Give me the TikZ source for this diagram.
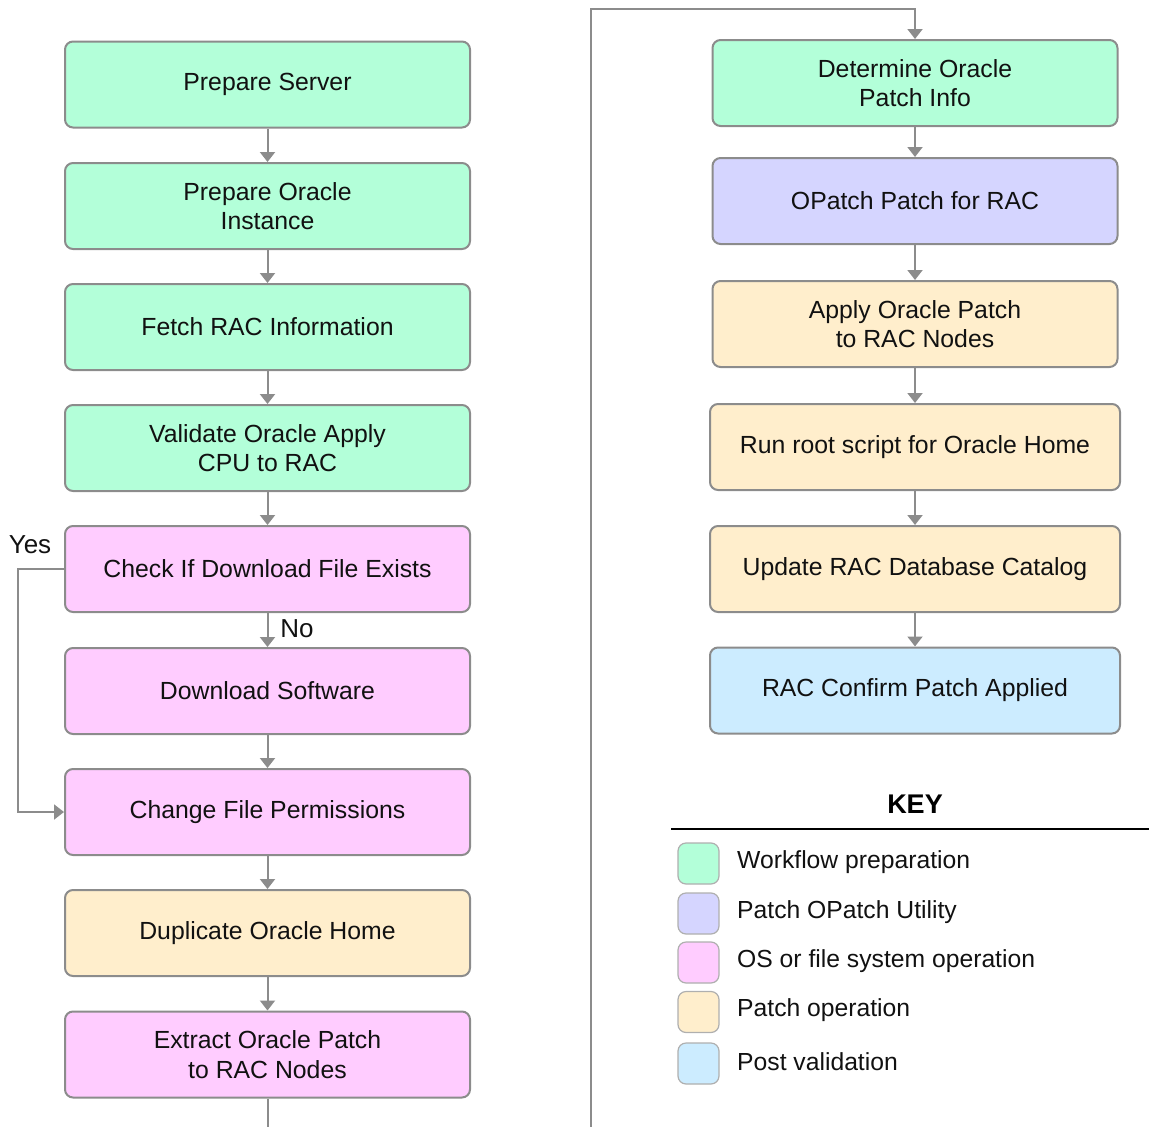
\documentclass[tikz,border=0pt]{standalone}
\usepackage{fontspec}
\setmainfont{Liberation Sans}
\usetikzlibrary{arrows.meta}
\definecolor{cgreen}{HTML}{B3FFD9}
\definecolor{cpurple}{HTML}{D5D5FF}
\definecolor{cpink}{HTML}{FFCCFF}
\definecolor{ctan}{HTML}{FFEECC}
\definecolor{cblue}{HTML}{CCECFF}
\definecolor{cborder}{HTML}{8C8C8C}
\definecolor{carrow}{HTML}{8C8C8C}
\definecolor{ctext}{HTML}{111111}
\tikzset{
  box/.style={draw=cborder, line width=2pt, rounded corners=8pt, minimum width=405pt,
    minimum height=86pt, inner sep=0pt, align=center, text=ctext,
    font=\fontsize{24.8}{29.5}\selectfont},
  wbox/.style={box, minimum width=410pt},
  arr/.style={draw=carrow, line width=2pt, -{Triangle[width=15pt,length=10pt]}},
  swatch/.style={draw=cborder!70, line width=1.2pt, rounded corners=8pt, minimum width=41pt,
    minimum height=41pt, inner sep=0pt},
  keylab/.style={anchor=west, inner sep=0pt, text=ctext, font=\fontsize{24.7}{28}\selectfont},
  lab/.style={inner sep=0pt, text=ctext, font=\fontsize{26}{30}\selectfont}
}
\begin{document}
\begin{tikzpicture}[x=1pt,y=-1pt]
\useasboundingbox (0,0) rectangle (1149,1127);
\clip (0,0) rectangle (1149,1127);
% left column
\node[box, fill=cgreen] (ps) at (267.5,84.5) {Prepare Server};
\node[box, fill=cgreen] (poi) at (267.5,206) {Prepare Oracle\\Instance};
\node[box, fill=cgreen] (frac) at (267.5,327) {Fetch RAC Information};
\node[box, fill=cgreen] (val) at (267.5,448) {Validate Oracle Apply\\CPU to RAC};
\node[box, fill=cpink] (chk) at (267.5,569) {Check If Download File Exists};
\node[box, fill=cpink] (dl) at (267.5,691) {Download Software};
\node[box, fill=cpink] (chg) at (267.5,812) {Change File Permissions};
\node[box, fill=ctan] (dup) at (267.5,933) {Duplicate Oracle Home};
\node[box, fill=cpink] (ext) at (267.5,1054.5) {Extract Oracle Patch\\to RAC Nodes};
% right column
\node[box, fill=cgreen] (det) at (915,83) {Determine Oracle\\Patch Info};
\node[box, fill=cpurple] (opa) at (915,201) {OPatch Patch for RAC};
\node[box, fill=ctan] (app) at (915,324) {Apply Oracle Patch\\to RAC Nodes};
\node[wbox, fill=ctan] (root) at (915,447) {Run root script for Oracle Home};
\node[wbox, fill=ctan] (upd) at (915,569) {Update RAC Database Catalog};
\node[wbox, fill=cblue] (conf) at (915,690.5) {RAC Confirm Patch Applied};
% connectors
\draw[arr] (ps) -- (poi);
\draw[arr] (poi) -- (frac);
\draw[arr] (frac) -- (val);
\draw[arr] (val) -- (chk);
\draw[arr] (chk) -- (dl);
\draw[arr] (dl) -- (chg);
\draw[arr] (chg) -- (dup);
\draw[arr] (dup) -- (ext);
\draw[arr] (chk.west) -- ++(-46,0) |- (chg.west);
\draw[arr] (ext.south) -- ++(0,60) -| (591,9) -| (det.north);
\draw[arr] (det) -- (opa);
\draw[arr] (opa) -- (app);
\draw[arr] (app) -- (root);
\draw[arr] (root) -- (upd);
\draw[arr] (upd) -- (conf);
\node[lab] (yes) at (30,545) {Yes};
\node[lab] (no) at (297,629) {No};
% key
\node[inner sep=0pt, text=black, font=\fontsize{27}{30}\selectfont\bfseries] (key) at (915,804) {KEY};
\draw[line width=2pt, black] (671,829) -- (1149,829);
\node[swatch, fill=cgreen] (s1) at (698.5,863.5) {};
\node[swatch, fill=cpurple] (s2) at (698.5,913.5) {};
\node[swatch, fill=cpink] (s3) at (698.5,962.5) {};
\node[swatch, fill=ctan] (s4) at (698.5,1012) {};
\node[swatch, fill=cblue] (s5) at (698.5,1063.5) {};
\node[keylab] (k1) at (737,862) {Workflow preparation};
\node[keylab] (k2) at (737,912) {Patch OPatch Utility};
\node[keylab] (k3) at (737,961) {OS or file system operation};
\node[keylab] (k4) at (737,1010) {Patch operation};
\node[keylab] (k5) at (737,1062) {Post validation};
\end{tikzpicture}
\end{document}
